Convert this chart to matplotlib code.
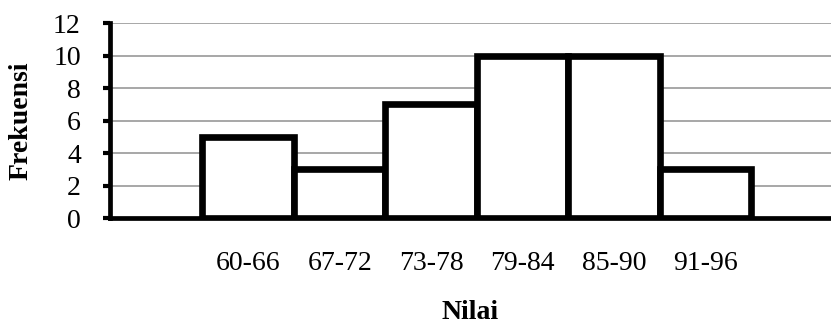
import numpy as np
import matplotlib.pyplot as plt

# frequency table of scores
kelas = ["60-66", "67-72", "73-78", "79-84", "85-90", "91-96"]
frekuensi = [5, 3, 7, 10, 10, 3]
y_ticks = [0, 2, 4, 6, 8, 10, 12]

plt.rcParams['font.family'] = ['Liberation Serif', 'DejaVu Serif']

fig = plt.figure(figsize=(8.31, 3.25), dpi=100)
ax = fig.add_axes([0.1324, 0.329, 0.8676, 0.6])

x = np.arange(len(kelas))
ax.bar(x, frekuensi, width=1.0, facecolor="white", edgecolor="black",
       linewidth=4.8, joinstyle="miter", zorder=3)

ax.set_xlim(-1.51, 6.37)
ax.set_ylim(0, 12)
ax.set_yticks(y_ticks)
ax.set_xticks(x)
ax.set_xticklabels(kelas)

# horizontal grid behind the bars
ax.yaxis.grid(True, color="#a0a0a0", linewidth=1.3)
ax.set_axisbelow(True)

for s in ["top", "right"]:
    ax.spines[s].set_visible(False)
ax.spines["left"].set_linewidth(3.4)
ax.spines["bottom"].set_linewidth(3.4)
ax.spines["left"].set_zorder(4)
ax.spines["bottom"].set_zorder(4)

ax.tick_params(axis="y", length=5, width=3, pad=16, labelsize=20)
ax.tick_params(axis="x", length=0, pad=24, labelsize=20)

ax.set_xlabel("Nilai", fontsize=20, fontweight="bold", labelpad=17)
ax.set_ylabel("Frekuensi", fontsize=20, fontweight="bold", labelpad=14)

fig.savefig("out.png", dpi=100)
